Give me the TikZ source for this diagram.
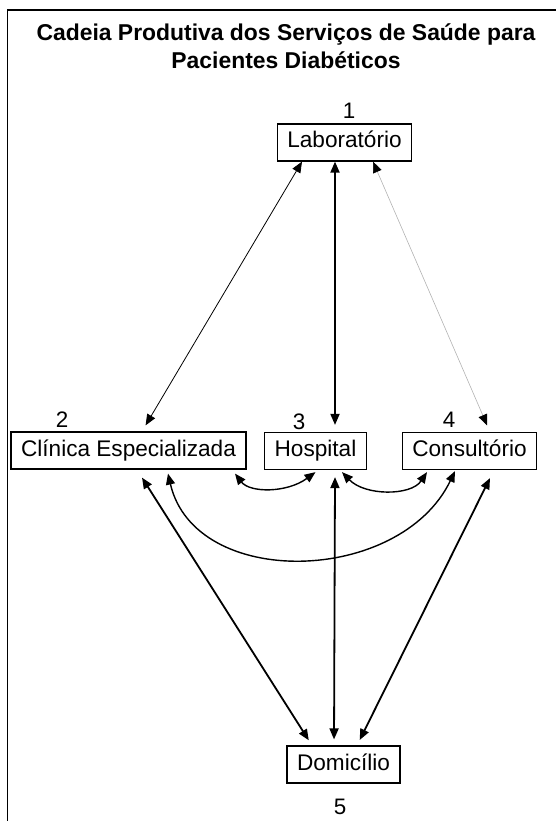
\documentclass[tikz,border=0pt]{standalone}
\usepackage{fontspec}
\setmainfont{Liberation Sans}
\usetikzlibrary{arrows.meta}

\begin{document}
\begin{tikzpicture}[x=1pt, y=-1pt,
    box/.style={draw, line width=1.2pt, inner xsep=10pt, inner ysep=8pt,
        text height=16pt, text depth=5pt, font=\fontsize{22.6}{26}\selectfont},
    num/.style={font=\fontsize{22.4}{26}\selectfont},
    link/.style={{Triangle[length=11pt,width=9pt,color=black]}-{Triangle[length=11pt,width=9pt,color=black]}},
    shorten >=7pt]
% Page and frame
\useasboundingbox (0,0) rectangle (556,821);
\clip (0,0) rectangle (556,821);
\draw[line width=1.8pt] (7.5,10) rectangle (620,900);

% Title
\node[align=center, font=\fontsize{22.9}{27.5}\selectfont\bfseries] (title) at (286,46)
    {Cadeia Produtiva dos Servi\c{c}os de Sa\'ude para\\Pacientes Diab\'eticos};

% Nodes
\node[box] (lab)  at (344.5,142.5) {Laborat\'orio};
\node[box] (clin) at (128.5,450.5) {Cl\'inica Especializada};
\node[box] (hosp) at (315.5,451)   {Hospital};
\node[box] (cons) at (469.5,451)   {Consult\'orio};
\node[box] (dom)  at (343.5,764.5) {Domic\'ilio};

% Numbers
\node[num] (n1) at (349,111) {1};
\node[num] (n2) at (62,420)  {2};
\node[num] (n3) at (299,422) {3};
\node[num] (n4) at (449,420) {4};
\node[num] (n5) at (340,807) {5};

% From the laboratory
\draw[link, line width=0.8pt] ([xshift=-42.5pt]lab.south) -- ([xshift=13.5pt]clin.north);
\draw[link, line width=1.8pt] ([xshift=-9.5pt]lab.south) -- ([xshift=19.5pt]hosp.north);
\draw[link, line width=0.6pt, draw=black!30] ([xshift=28.5pt]lab.south) -- ([xshift=20.5pt]cons.north);

% Between the middle row
\draw[link, line width=1.4pt, shorten >=0pt] ([xshift=106.5pt,yshift=-4pt]clin.south)
    .. controls (250,493) and (287,493) .. ([yshift=-2pt]hosp.south);
\draw[link, line width=1.4pt, shorten >=0pt] ([xshift=26.5pt,yshift=-2pt]hosp.south)
    .. controls (365,496) and (411,496) .. ([xshift=-42.5pt,yshift=-2pt]cons.south);
\draw[link, line width=1.4pt, shorten >=0pt] ([xshift=39.5pt,yshift=-4pt]clin.south)
    .. controls (195,590) and (400,585) .. ([xshift=-14.5pt,yshift=-1pt]cons.south);

% Down to the home
\draw[link, line width=1.8pt, shorten >=6pt] ([xshift=13.5pt,yshift=-8pt]clin.south) -- ([xshift=-31.5pt]dom.north);
\draw[link, line width=1.8pt, shorten >=6pt] ([xshift=19.5pt,yshift=-7pt]hosp.south) -- ([xshift=-9.5pt]dom.north);
\draw[link, line width=1.8pt, shorten >=6pt] ([xshift=20.5pt,yshift=-8pt]cons.south) -- ([xshift=13.5pt]dom.north);
\end{tikzpicture}
\end{document}
